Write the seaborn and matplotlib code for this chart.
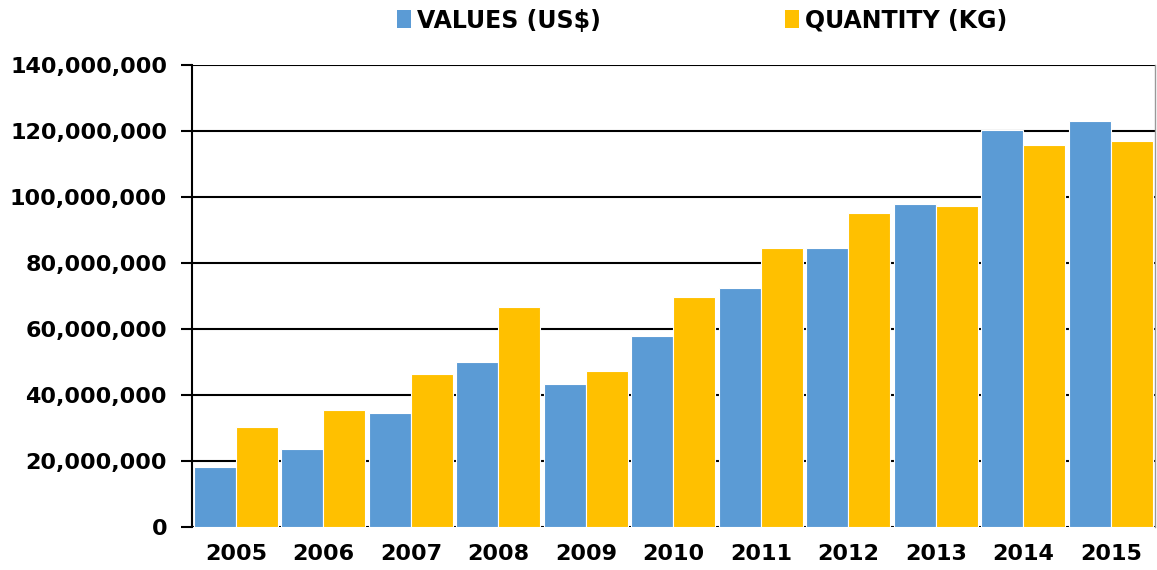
import pandas as pd
import numpy as np
import matplotlib.pyplot as plt
import seaborn as sns
from matplotlib.ticker import FuncFormatter, MultipleLocator
from matplotlib.patches import Patch

# --- DATA ---
years = ['2005', '2006', '2007', '2008', '2009', '2010', '2011', '2012', '2013', '2014', '2015']
values_usd = [18.3, 23.6, 34.6, 50.0, 43.4, 57.8, 72.5, 84.4, 98.0, 120.2, 123.0]
quantity_kg = [30.2, 35.6, 46.3, 66.6, 47.4, 69.7, 84.6, 95.0, 97.3, 115.7, 117.0]
series_names = ['VALUES (US$)', 'QUANTITY (KG)']
colors = ['#5B9BD5', '#FFC000']

df = pd.DataFrame({
    'Year': years * 2,
    'Series': [series_names[0]] * len(years) + [series_names[1]] * len(years),
    'Amount': [v * 1e6 for v in values_usd] + [q * 1e6 for q in quantity_kg],
})

sns.set_style('white')
plt.rcParams['font.family'] = ['DejaVu Sans']
plt.rcParams['text.color'] = 'black'

fig = plt.figure(figsize=(11.57, 5.70), dpi=100)
ax = fig.add_axes([0.166, 0.0754, 0.832, 0.8106])

sns.barplot(data=df, x='Year', y='Amount', hue='Series', palette=colors,
            saturation=1, width=0.96, edgecolor='white', linewidth=0.8,
            ax=ax, legend=False, zorder=3)

ax.set_ylim(0, 140e6)
ax.set_xlim(-0.5, len(years) - 0.5)
ax.yaxis.set_major_locator(MultipleLocator(20e6))
ax.yaxis.set_major_formatter(FuncFormatter(lambda v, p: f'{int(v):,}'))
ax.grid(axis='y', color='black', linewidth=1.5, zorder=0)
ax.set_axisbelow(True)

for s in ['top', 'bottom']:
    ax.spines[s].set_visible(False)
ax.spines['left'].set_color('black')
ax.spines['left'].set_linewidth(1.5)
ax.spines['right'].set_color('#999999')
ax.spines['right'].set_linewidth(1)

ax.tick_params(axis='y', direction='out', length=8, width=1.5, color='black',
               left=True, labelsize=16, pad=10, labelcolor='black')
ax.tick_params(axis='x', length=0, labelsize=16, pad=12, labelcolor='black')
for lbl in ax.get_xticklabels() + ax.get_yticklabels():
    lbl.set_fontweight('bold')

ax.set_xlabel('')
ax.set_ylabel('')

handles = [Patch(facecolor=c, edgecolor='none') for c in colors]
fig.legend(handles, series_names, loc='center', bbox_to_anchor=(0.607, 0.964),
           ncol=2, frameon=False, handlelength=0.6, handleheight=0.8,
           handletextpad=0.25, columnspacing=7.8,
           prop={'weight': 'bold', 'size': 17})

fig.savefig('out.png', dpi=100)
